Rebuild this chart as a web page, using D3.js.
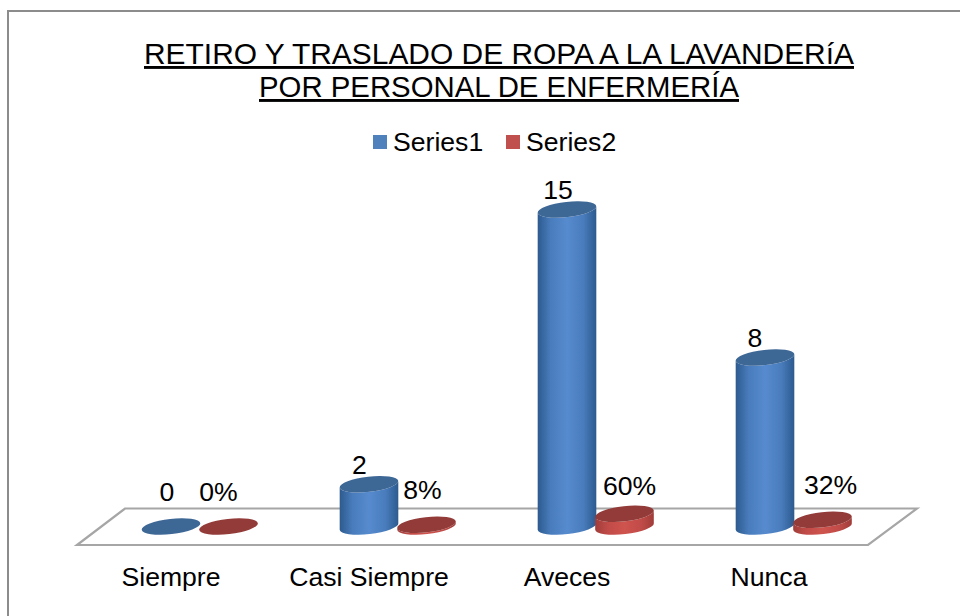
<!DOCTYPE html>
<html>
<head>
<meta charset="utf-8">
<script src="https://cdn.jsdelivr.net/npm/d3@7"></script>
<style>
html,body{margin:0;padding:0;background:#fff;overflow:hidden}
text{font-family:"Liberation Sans",Arial,sans-serif;fill:#000}
</style>
</head>
<body>
<svg id="c" width="960" height="616"></svg>
<script>
const titleLines = ["RETIRO Y TRASLADO DE ROPA A LA LAVANDERíA", "POR PERSONAL DE ENFERMERÍA"];
const categories = ["Siempre", "Casi Siempre", "Aveces", "Nunca"];
const seriesNames = ["Series1", "Series2"];
const series1 = [0, 2, 15, 8];
const series2 = [0, 0.08, 0.6, 0.32];
const series2Labels = ["0%", "8%", "60%", "32%"];

const svg = d3.select("#c");
const titleSize = 29;
const fontSize = 26.6;
const palette = [
  {edge:"#2c5a8e", mid:"#568bcf", top:"#3d6796", legend:"#4f81bd"},
  {edge:"#a03c39", mid:"#cf534f", top:"#933b39", legend:"#c0504d"}
];

// gradients and softening
const defs = svg.append("defs");
palette.forEach((p,i)=>{
  const g = defs.append("linearGradient").attr("id","body"+i);
  [[0,p.edge],[0.22,d3.interpolateRgb(p.edge,p.mid)(0.7)],[0.5,p.mid],[0.78,d3.interpolateRgb(p.edge,p.mid)(0.7)],[1,p.edge]]
    .forEach(s=>g.append("stop").attr("offset",s[0]).attr("stop-color",s[1]));
});
defs.append("filter").attr("id","soft").attr("x","-10%").attr("y","-10%").attr("width","120%").attr("height","120%")
  .append("feGaussianBlur").attr("stdDeviation",0.5);

// frame (cropped on right and bottom)
svg.append("path").attr("d","M8,616V11H960").attr("fill","none").attr("stroke","#8c8c8c").attr("stroke-width",2);

// title
const titleWidths = [710, 480];
svg.append("g").selectAll("text").data(titleLines).join("text")
  .attr("x",499).attr("y",(d,i)=>64+i*33).attr("text-anchor","middle")
  .attr("font-size",titleSize).attr("text-decoration","underline")
  .attr("textLength",(d,i)=>titleWidths[i]).attr("lengthAdjust","spacingAndGlyphs").text(d=>d);

// legend
const legendX = d3.scaleOrdinal().domain(seriesNames).range([373,506]);
const legend = svg.append("g").selectAll("g").data(seriesNames).join("g")
  .attr("transform",d=>`translate(${legendX(d)},135)`);
legend.append("rect").attr("width",14).attr("height",14).attr("fill",(d,i)=>palette[i].legend);
legend.append("text").attr("x",20).attr("y",16).attr("font-size",fontSize).text(d=>d);

// floor
svg.append("path").attr("d","M77,545H868L917,508.5H125Z").attr("fill","#fff").attr("stroke","#a6a6a6").attr("stroke-width",2.2);

// scales
const x = d3.scaleBand().domain(categories).range([72,864]).paddingInner(0).paddingOuter(0);
const seriesX = d3.scalePoint().domain(seriesNames).range([0,57.5]);
const y = d3.scaleLinear().domain([0,15]).range([526.5,209.5]);

// category axis
const axis = d3.axisBottom(x).tickSize(0).tickPadding(0);
const axG = svg.append("g").attr("transform","translate(0,586)").call(axis);
axG.select(".domain").remove();
axG.selectAll("text").attr("font-size",fontSize).attr("font-family",'"Liberation Sans",Arial,sans-serif').attr("dy",0).attr("y",0);
axG.selectAll(".tick").filter(d=>d==="Nunca").select("text").attr("dx",4);

// cylinders
const rx = 29.5, ry = 7.6, tiltDeg = -6.5;
const t = tiltDeg*Math.PI/180, dx = rx*Math.cos(t), dy = rx*Math.sin(t);
const rows = [];
categories.forEach((c,ci)=>{
  seriesNames.forEach((s,si)=>{
    const v = (si===0?series1:series2)[ci];
    rows.push({c,ci,s,si,v,label:si===0?String(v):series2Labels[ci]});
  });
});
const bars = svg.append("g").selectAll("g").data(rows).join("g")
  .attr("filter","url(#soft)")
  .attr("transform",d=>`translate(${x(d.c)+x.bandwidth()/2+seriesX(d.s)},0)`);
bars.filter(d=>d.v>0).append("path")
  .attr("d",d=>{
    const yt=y(d.v), yb=y(0);
    return `M${-dx},${yt-dy}L${-dx},${yb-dy}A${rx},${ry} ${tiltDeg} 0 0 ${dx},${yb+dy}L${dx},${yt+dy}A${rx},${ry} ${tiltDeg} 0 1 ${-dx},${yt-dy}Z`;
  })
  .attr("fill",d=>`url(#body${d.si})`);
bars.append("ellipse")
  .attr("rx",rx).attr("ry",ry)
  .attr("transform",d=>`translate(0,${y(d.v)}) rotate(${tiltDeg})`)
  .attr("fill",d=>palette[d.si].top);

// data labels: hand placed in the original, so nudged per label here
const nudgeX = [[-4,-9.5,-9,-10],[-10,-4,5,8]];
const lift = [[26,10.5,10.5,10.5],[26,26,18.5,26]];
svg.append("g").selectAll("text").data(rows).join("text")
  .attr("x",d=>x(d.c)+x.bandwidth()/2+seriesX(d.s)+nudgeX[d.si][d.ci])
  .attr("y",d=>y(d.v)-lift[d.si][d.ci])
  .attr("text-anchor","middle").attr("font-size",fontSize)
  .text(d=>d.label);
</script>
</body>
</html>
